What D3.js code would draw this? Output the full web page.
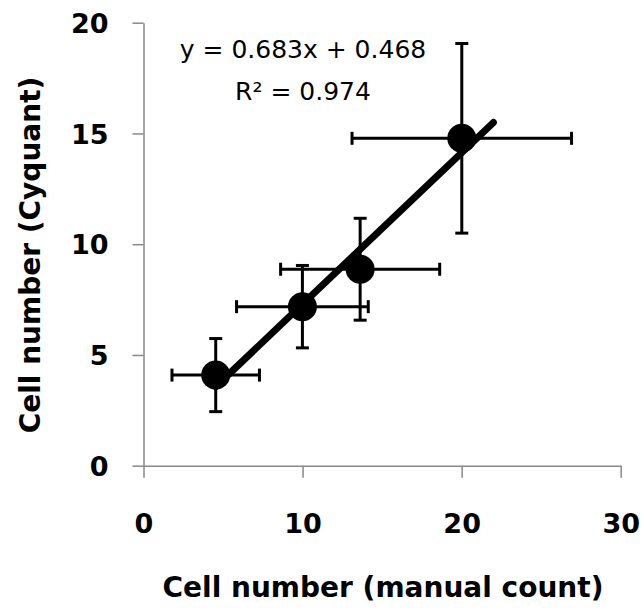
<!DOCTYPE html>
<html>
<head>
<meta charset="utf-8">
<script src="https://cdn.jsdelivr.net/npm/d3@7"></script>
<style>
  html, body { margin: 0; padding: 0; background: #fff; }
  svg { display: block; }
</style>
</head>
<body>
<svg id="chart" width="642" height="613"></svg>
<script>
// ---- data ----
const manualCount = [4.54, 9.99, 13.62, 20.01];
const cyquant     = [4.09, 7.18, 8.87, 14.78];
const manualErr   = [2.75, 4.14, 5.0, 6.9];
const cyquantErr  = [1.65, 1.86, 2.3, 4.28];
const slope = 0.683, intercept = 0.468;
const trendRange = [4.54, 22];
const xTicks = [0, 10, 20, 30];
const yTicks = [0, 5, 10, 15, 20];
const equationText = "y = 0.683x + 0.468";
const r2Text = "R² = 0.974";
const xTitle = "Cell number (manual count)";
const yTitle = "Cell number (Cyquant)";

const svg = d3.select("#chart");
const x = d3.scaleLinear().domain([0, 30]).range([143.5, 620.7]);
const y = d3.scaleLinear().domain([0, 20]).range([465.7, 22.7]);
const axisColor = "#898989";
const font = "'DejaVu Sans', sans-serif";

// axes
const gx = svg.append("g").attr("transform", `translate(0,${y(0)})`)
  .call(d3.axisBottom(x).tickValues(xTicks).tickSize(12).tickSizeOuter(0).tickPadding(44));
const gy = svg.append("g").attr("transform", `translate(${x(0)},0)`)
  .call(d3.axisLeft(y).tickValues(yTicks).tickSize(11).tickSizeOuter(0).tickPadding(24));
[gx, gy].forEach(g => {
  g.select(".domain").attr("stroke", axisColor).attr("stroke-width", 1.5);
  g.selectAll(".tick line").attr("stroke", axisColor).attr("stroke-width", 1.5);
  g.selectAll(".tick text").attr("fill", "#000").style("font-family", font)
    .style("font-weight", "bold").style("font-size", "27px");
});
gx.selectAll(".tick text").attr("dy", null).attr("y", 67);
gy.selectAll(".tick text").attr("dy", "0.36em");

// error bars
const pts = manualCount.map((v, i) => ({x: v, y: cyquant[i], ex: manualErr[i], ey: cyquantErr[i]}));
const cap = 6.5;
const eb = svg.append("g").attr("stroke", "#000").attr("stroke-width", 3).attr("fill", "none");
pts.forEach(p => {
  // horizontal
  eb.append("line").attr("x1", x(p.x - p.ex)).attr("x2", x(p.x + p.ex)).attr("y1", y(p.y)).attr("y2", y(p.y));
  eb.append("line").attr("x1", x(p.x - p.ex)).attr("x2", x(p.x - p.ex)).attr("y1", y(p.y) - cap).attr("y2", y(p.y) + cap);
  eb.append("line").attr("x1", x(p.x + p.ex)).attr("x2", x(p.x + p.ex)).attr("y1", y(p.y) - cap).attr("y2", y(p.y) + cap);
  // vertical
  eb.append("line").attr("x1", x(p.x)).attr("x2", x(p.x)).attr("y1", y(p.y - p.ey)).attr("y2", y(p.y + p.ey));
  eb.append("line").attr("x1", x(p.x) - cap).attr("x2", x(p.x) + cap).attr("y1", y(p.y - p.ey)).attr("y2", y(p.y - p.ey));
  eb.append("line").attr("x1", x(p.x) - cap).attr("x2", x(p.x) + cap).attr("y1", y(p.y + p.ey)).attr("y2", y(p.y + p.ey));
});

// markers
svg.append("g").selectAll("circle").data(pts).join("circle")
  .attr("cx", d => x(d.x)).attr("cy", d => y(d.y)).attr("r", 14.5).attr("fill", "#000");

// trend line
svg.append("line")
  .attr("x1", x(trendRange[0])).attr("y1", y(slope * trendRange[0] + intercept))
  .attr("x2", x(trendRange[1])).attr("y2", y(slope * trendRange[1] + intercept))
  .attr("stroke", "#000").attr("stroke-width", 7).attr("stroke-linecap", "round");

// equation
svg.append("text").attr("x", 303).attr("y", 58).attr("text-anchor", "middle")
  .style("font-family", font).style("font-size", "25px").attr("fill", "#000").text(equationText);
svg.append("text").attr("x", 303).attr("y", 100).attr("text-anchor", "middle")
  .style("font-family", font).style("font-size", "25px").attr("fill", "#000").text(r2Text);

// axis titles
svg.append("text").attr("x", 383).attr("y", 597).attr("text-anchor", "middle")
  .style("font-family", font).style("font-weight", "bold").style("font-size", "28px").attr("fill", "#000").text(xTitle);
svg.append("text").attr("transform", "translate(40,255) rotate(-90)").attr("text-anchor", "middle")
  .style("font-family", font).style("font-weight", "bold").style("font-size", "28px").attr("fill", "#000").text(yTitle);
</script>
</body>
</html>
